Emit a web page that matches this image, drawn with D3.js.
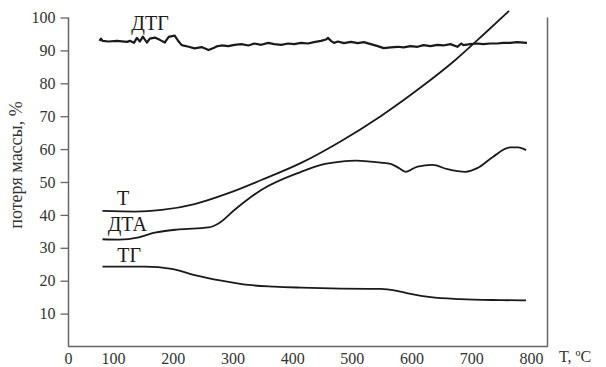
<!DOCTYPE html>
<html><head><meta charset="utf-8">
<script src="https://cdn.jsdelivr.net/npm/d3@7"></script>
<style>html,body{margin:0;padding:0;background:#fff;}</style>
</head><body>
<svg id="c" width="606" height="367"></svg>
<script>
// Data (temperature °C, mass loss %)
const xTicks = [0,100,200,300,400,500,600,700,800];
const yTicks = [10,20,30,40,50,60,70,80,90,100];

const tT = [76.7,136.7,181.7,236.7,293.3,348.3,415,481.7,548.3,615,673.3,723.3,763.3];
const vT = [41.2,41.0,41.5,43.3,46.6,50.6,55.8,62.4,70.0,78.7,87.1,95.3,102.0];

const tDTA = [76.7,110,143.3,170,210,260,276.7,303.3,348.3,415,448.3,481.7,506.7,531.7,548.3,565,578.3,590,610,635,660,690,710,736.7,765,778.3,791.7];
const vDTA = [32.6,32.5,33.2,34.6,35.6,36.2,37.4,41.5,47.6,53.1,55.2,56.2,56.5,56.2,55.9,55.5,54.3,53.1,54.7,55.2,53.9,53.1,54.2,57.7,60.5,60.5,59.7];

const tTG = [76.7,153.3,198.3,236.7,281.7,326.7,370,415,481.7,548.3,573.3,598.3,631.7,681.7,748.3,791.7];
const vTG = [24.3,24.3,23.6,21.7,20.0,18.7,18.2,17.9,17.6,17.5,17.0,16.0,15.0,14.4,14.1,14.0];

const tDTG = [70,73.3,76.7,90,106.7,123.3,128.3,135,140,145,150,156.7,161.7,170,178.3,186.7,193.3,203.3,210,215,226.7,236.7,248.3,260,268.3,273.3,281.7,293.3,303.3,315,326.7,336.7,348.3,360,370,381.7,393.3,403.3,415,426.7,436.7,448.3,456.7,460,465,470,476.7,486.7,498.3,510,520,531.7,543.3,553.3,565,576.7,586.7,598.3,610,620,631.7,643.3,653.3,665,676.7,683.3,686.7,698.3,710,720,731.7,743.3,753.3,765,776.7,793.3];
const vDTG = [92.9,93.6,92.9,92.7,92.9,92.6,92.9,92.3,93.8,92.7,94.2,92.4,93.6,93.9,93.2,92.4,94.1,94.5,92.7,91.6,91.1,90.6,91.0,90.1,90.7,91.2,91.5,91.3,91.7,91.9,91.5,92.1,91.7,92.3,91.9,91.7,92.1,91.9,92.3,92.1,92.5,92.9,93.3,93.8,92.9,92.3,92.7,92.2,92.6,92.2,92.5,91.9,91.3,90.7,90.9,91.1,90.9,91.3,91.1,91.6,91.3,91.7,91.5,91.9,91.1,92.1,91.6,91.9,92.1,91.9,92.1,92.1,92.3,92.3,92.5,92.3];

const curveLabels = [
  {text:"ДТГ", t:162, v:96.2},
  {text:"Т", t:117, v:43.0},
  {text:"ДТА", t:124, v:35.0},
  {text:"ТГ", t:127, v:25.7}
];

const svg = d3.select("#c");
const x = d3.scaleLinear().domain([0,100,800]).range([68,113,531]);
const y = d3.scaleLinear().domain([0,100]).range([346.5,17.5]);
const serif = "'Liberation Serif','Times New Roman',serif";

// frame
svg.append("line").attr("x1",68.5).attr("x2",68.5).attr("y1",y(100)).attr("y2",y(0)).attr("stroke","#666").attr("stroke-width",1.5);
svg.append("line").attr("x1",547.5).attr("x2",547.5).attr("y1",y(100)).attr("y2",y(0)).attr("stroke","#666").attr("stroke-width",1.5);
svg.append("line").attr("x1",68).attr("x2",548).attr("y1",y(0)).attr("y2",y(0)).attr("stroke","#666").attr("stroke-width",1.5);

// y axis
const ya = svg.append("g").attr("transform","translate(68.5,0)")
  .call(d3.axisLeft(y).tickValues(yTicks).tickSize(8).tickPadding(5).tickFormat(d3.format("d")));
ya.select(".domain").remove();
ya.selectAll(".tick line").attr("stroke","#666").attr("stroke-width",1.3);
ya.selectAll(".tick text").attr("font-family",serif).attr("font-size",16).attr("fill","#333");

// x axis
const xa = svg.append("g").attr("transform",`translate(0,${y(0)})`)
  .call(d3.axisBottom(x).tickValues(xTicks).tickSize(0).tickPadding(5).tickFormat(d3.format("d")));
xa.select(".domain").remove();
xa.selectAll(".tick text").attr("font-family",serif).attr("font-size",16).attr("fill","#333").attr("dy","0.75em");

svg.append("text").attr("x",559).attr("y",362).attr("font-family",serif).attr("font-size",16).attr("fill","#333").text("T, ºC");

svg.append("text").attr("transform","translate(22,165) rotate(-90)").attr("text-anchor","middle")
  .attr("font-family",serif).attr("font-size",18).attr("fill","#333").text("потеря массы, %");

const line = d3.line().x(d=>x(d[0])).y(d=>y(d[1])).curve(d3.curveMonotoneX);
const lineRough = d3.line().x(d=>x(d[0])).y(d=>y(d[1]));
const series = [
  {t:tT, v:vT, w:1.8, gen:line},
  {t:tDTA, v:vDTA, w:1.8, gen:line},
  {t:tTG, v:vTG, w:1.8, gen:line},
  {t:tDTG, v:vDTG, w:2.2, gen:lineRough}
];
series.forEach(s=>{
  const pts = s.t.map((t,i)=>[t,s.v[i]]);
  svg.append("path").datum(pts).attr("d", s.gen(pts))
    .attr("fill","none").attr("stroke","#1a1a1a").attr("stroke-width",s.w).attr("stroke-linejoin","round");
});

curveLabels.forEach(l=>{
  svg.append("text").attr("x",x(l.t)).attr("y",y(l.v)).attr("font-family",serif).attr("font-size",20)
    .attr("fill","#1a1a1a").attr("text-anchor","middle").text(l.text);
});
</script>
</body></html>
